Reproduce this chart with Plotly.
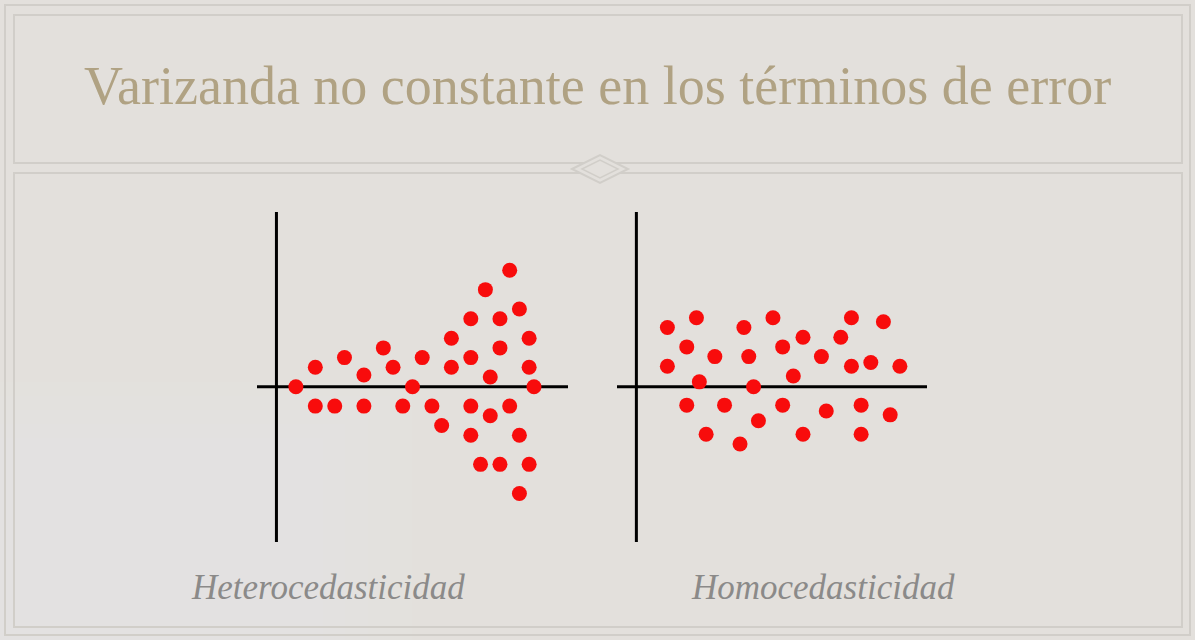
import plotly.graph_objects as go

# ---- data ----
title_text = "Varizanda no constante en los términos de error"
panel_labels = ["Heterocedasticidad", "Homocedasticidad"]

hetero_x = [2, 4, 4, 6, 7, 9, 9, 11, 12, 13, 14, 15, 16, 17, 18, 18, 20, 20, 20, 20,
            21, 21.5, 22, 22, 23, 23, 23, 24, 24, 25, 25, 25, 26, 26, 26, 26.5]
hetero_y = [0, 2, -2, -2, 3, 1.2, -2, 4, 2, -2, 0, 3, -2, -4, 5, 2, 7, 3, -2, -5,
            -8, 10, 1, -3, 7, 4, -8, 12, -2, 8, -5, -11, 5, 2, -8, 0]

homo_x = [3.2, 6.2, 11.1, 14.1, 22.2, 25.5, 5.2, 15.1, 17.2, 21.1, 3.2, 8.1, 11.6, 19.1,
          22.2, 24.2, 27.2, 6.5, 12.1, 16.2, 5.2, 9.1, 15.1, 19.6, 23.2, 26.2, 12.6,
          7.2, 10.7, 17.2, 23.2]
homo_y = [6.1, 7.1, 6.1, 7.1, 7.1, 6.7, 4.1, 4.1, 5.1, 5.1, 2.1, 3.1, 3.1, 3.1,
          2.1, 2.5, 2.1, 0.5, 0, 1.1, -1.9, -1.9, -1.9, -2.5, -1.9, -2.9, -3.5,
          -4.9, -5.9, -4.9, -4.9]

X_RANGE = [-2, 30]
Y_RANGE = [-16, 18]

W, H = 1195, 640
BG = "#e3e0dc"
def px(x):
    return x / W
def py(y):
    return 1 - y / H

fig = go.Figure()
dot = dict(color="#f80c0c", size=15, line=dict(width=0))
fig.add_trace(go.Scatter(x=hetero_x, y=hetero_y, mode="markers", marker=dot,
                         xaxis="x", yaxis="y", hoverinfo="skip"))
fig.add_trace(go.Scatter(x=homo_x, y=homo_y, mode="markers", marker=dot,
                         xaxis="x2", yaxis="y2", hoverinfo="skip"))

ax_common = dict(visible=False, fixedrange=True)
fig.update_layout(
    width=W, height=H,
    margin=dict(l=0, r=0, t=0, b=0),
    paper_bgcolor=BG,
    plot_bgcolor="rgba(0,0,0,0)",
    showlegend=False,
    xaxis=dict(domain=[px(257), px(568)], range=X_RANGE, **ax_common),
    yaxis=dict(domain=[py(542), py(212)], range=Y_RANGE, **ax_common),
    xaxis2=dict(domain=[px(617), px(927)], range=X_RANGE, anchor="y2", **ax_common),
    yaxis2=dict(domain=[py(542), py(212)], range=Y_RANGE, anchor="x2", **ax_common),
)

shapes = []
# soft vertical lightening toward the bottom
n = 24
for i in range(n):
    y0 = 200 + i * (440 / n)
    shapes.append(dict(type="rect", xref="paper", yref="paper", layer="below",
                       x0=0, x1=1, y0=0, y1=py(y0),
                       line=dict(width=0), fillcolor="rgba(255,255,255,0.009)"))
# lighter bottom-left corner
for i in range(18):
    s = 20 + i * 14
    shapes.append(dict(type="rect", xref="paper", yref="paper", layer="below",
                       x0=0, x1=px(s * 1.6), y0=0, y1=py(H - s),
                       line=dict(width=0), fillcolor="rgba(255,255,255,0.03)"))
# lighter bottom-right corner
for i in range(14):
    s = 20 + i * 14
    shapes.append(dict(type="rect", xref="paper", yref="paper", layer="below",
                       x0=px(W - s * 1.6), x1=1, y0=0, y1=py(H - s),
                       line=dict(width=0), fillcolor="rgba(255,255,255,0.02)"))
# axes lines
for xr, yr in [("x", "y"), ("x2", "y2")]:
    shapes.append(dict(type="line", xref=xr, yref=yr, x0=X_RANGE[0], x1=X_RANGE[1],
                       y0=0, y1=0, line=dict(color="#000000", width=3), layer="below"))
    shapes.append(dict(type="line", xref=xr, yref=yr, x0=0, x1=0,
                       y0=Y_RANGE[0], y1=Y_RANGE[1], line=dict(color="#000000", width=3), layer="below"))
# frame
frame_col = "#d1cec9"
def rect(x0, y0, x1, y1, col=frame_col, w=2):
    return dict(type="rect", xref="paper", yref="paper", layer="below",
                x0=px(x0), x1=px(x1), y0=py(y1), y1=py(y0),
                line=dict(color=col, width=w), fillcolor="rgba(0,0,0,0)")
shapes.append(rect(5, 5, 1190, 635))
shapes.append(rect(14, 15, 1182, 163))
shapes.append(rect(14, 173, 1182, 627))
# diamond ornament
cx, cy = 600, 169
d_outer = "M %f,%f L %f,%f L %f,%f L %f,%f Z" % (
    px(cx - 28), py(cy), px(cx), py(cy - 14), px(cx + 28), py(cy), px(cx), py(cy + 14))
shapes.append(dict(type="path", xref="paper", yref="paper", path=d_outer,
                   fillcolor=BG, line=dict(color=frame_col, width=2), layer="below"))
d_inner = "M %f,%f L %f,%f L %f,%f L %f,%f Z" % (
    px(cx - 18), py(cy), px(cx), py(cy - 9), px(cx + 18), py(cy), px(cx), py(cy + 9))
shapes.append(dict(type="path", xref="paper", yref="paper", path=d_inner,
                   fillcolor="rgba(0,0,0,0)", line=dict(color=frame_col, width=1.5), layer="below"))
fig.update_layout(shapes=shapes)

serif = "Liberation Serif, DejaVu Serif, serif"
annotations = [
    dict(text=title_text, x=px(598), y=py(86), xref="paper", yref="paper",
         showarrow=False, xanchor="center", yanchor="middle",
         font=dict(family=serif, size=54, color="#b0a283")),
    dict(text="<i>%s</i>" % panel_labels[0], x=px(328), y=py(587), xref="paper", yref="paper",
         showarrow=False, xanchor="center", yanchor="middle",
         font=dict(family=serif, size=35, color="#8b8a89")),
    dict(text="<i>%s</i>" % panel_labels[1], x=px(823), y=py(587), xref="paper", yref="paper",
         showarrow=False, xanchor="center", yanchor="middle",
         font=dict(family=serif, size=35, color="#8b8a89")),
]
fig.update_layout(annotations=annotations)

fig.write_html("out.html", config={"displayModeBar": False},
               post_script="document.body.style.margin='0';document.body.style.background='%s';" % BG)
